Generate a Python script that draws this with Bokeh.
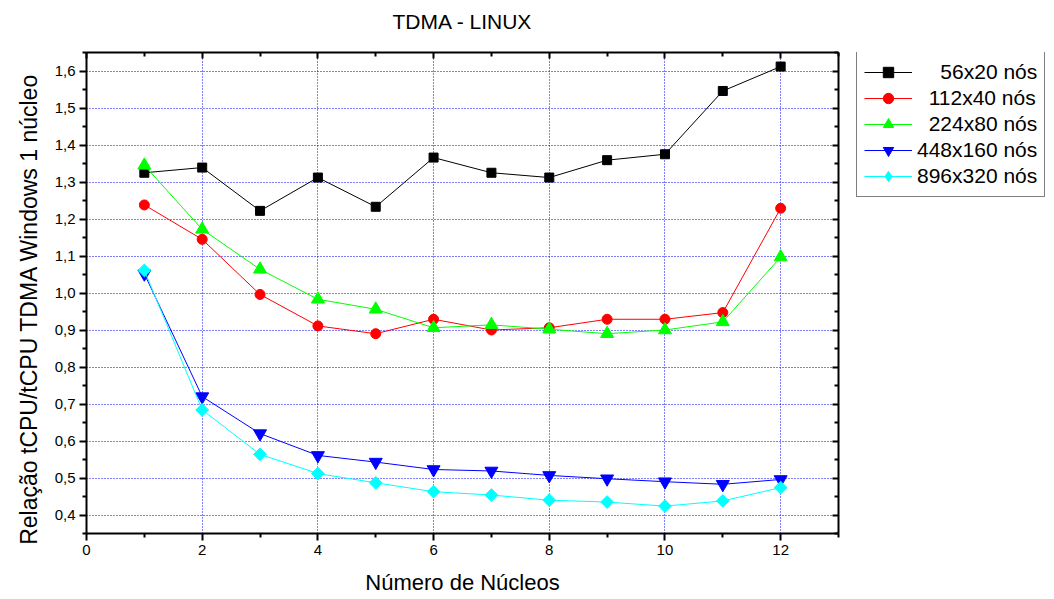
import math
from bokeh.plotting import figure
from bokeh.layouts import row
from bokeh.models import (FixedTicker, LinearAxis, Range1d, Legend, LegendItem,
                          CustomJSTickFormatter)
from bokeh.embed import file_html
from bokeh.resources import INLINE

# ---- data ----
nucleos = [1, 2, 3, 4, 5, 6, 7, 8, 9, 10, 11, 12]
s56x20 = [1.325, 1.339, 1.222, 1.312, 1.233, 1.366, 1.325, 1.312, 1.359, 1.375, 1.546, 1.612]
s112x40 = [1.238, 1.145, 0.996, 0.911, 0.890, 0.929, 0.900, 0.906, 0.929, 0.929, 0.947, 1.229]
s224x80 = [1.345, 1.172, 1.064, 0.983, 0.956, 0.906, 0.914, 0.902, 0.890, 0.900, 0.922, 1.097]
s448x160 = [1.052, 0.720, 0.620, 0.561, 0.543, 0.523, 0.519, 0.507, 0.498, 0.490, 0.483, 0.496]
s896x320 = [1.061, 0.684, 0.564, 0.512, 0.487, 0.463, 0.454, 0.440, 0.435, 0.424, 0.438, 0.474]

labels = ["\u00a0\u00a0\u00a0\u00a056x20 nós", "\u00a0\u00a0112x40 nós", "\u00a0\u00a0224x80 nós",
          "448x160 nós", "896x320 nós"]
title_text = "TDMA - LINUX"
x_ticks = [0, 2, 4, 6, 8, 10, 12]
x_minor = [1, 3, 5, 7, 9, 11, 13]
y_ticks = [0.4, 0.5, 0.6, 0.7, 0.8, 0.9, 1.0, 1.1, 1.2, 1.3, 1.4, 1.5, 1.6]
y_minor = [0.35, 0.45, 0.55, 0.65, 0.75, 0.85, 0.95, 1.05, 1.15, 1.25, 1.35, 1.45, 1.55, 1.65]

FONT = "Liberation Sans"

p = figure(width=841, height=599, output_backend="svg", toolbar_location=None,
           x_range=Range1d(0, 13), y_range=Range1d(0.35, 1.65),
           min_border_left=86, min_border_right=3, min_border_top=52, min_border_bottom=66)
p.outline_line_color = None
p.background_fill_color = "white"
p.border_fill_color = "white"

xt = FixedTicker(ticks=x_ticks, minor_ticks=x_minor)
yt = FixedTicker(ticks=y_ticks, minor_ticks=y_minor)
yfmt = CustomJSTickFormatter(code="return tick.toFixed(1).replace('.', ',');")
blank = CustomJSTickFormatter(code="return '';")

for ax in p.xaxis:
    ax.ticker = xt
for ax in p.yaxis:
    ax.ticker = yt
    ax.formatter = yfmt

for ax in list(p.xaxis) + list(p.yaxis):
    ax.axis_line_width = 2
    ax.major_tick_line_width = 2
    ax.minor_tick_line_width = 2
    ax.major_tick_out = 7
    ax.major_tick_in = 0
    ax.minor_tick_out = 4
    ax.minor_tick_in = 0
    ax.major_label_text_font = FONT
    ax.major_label_text_font_size = "15px"
    ax.major_label_text_color = "black"
    ax.axis_label_text_font = FONT
    ax.axis_label_text_font_style = "normal"
    ax.axis_label_text_color = "black"
    ax.major_label_standoff = 4

p.xaxis.axis_label = "Número de Núcleos"
p.xaxis.axis_label_text_font_size = "22px"
p.xaxis.axis_label_standoff = 12
p.yaxis.axis_label = "Relação tCPU/tCPU TDMA Windows 1 núcleo" + "\u00a0" * 5
p.yaxis.axis_label_text_font_size = "23px"
p.yaxis.axis_label_standoff = 10

top = LinearAxis(ticker=xt, formatter=blank, major_label_text_font_size="0px", major_tick_in=6,
                 major_tick_out=0, minor_tick_in=4, minor_tick_out=0, axis_line_width=2,
                 major_tick_line_width=2, minor_tick_line_width=2, major_label_standoff=0,
                 axis_label=title_text, axis_label_text_font=FONT,
                 axis_label_text_font_size="21px", axis_label_text_font_style="normal",
                 axis_label_text_color="black", axis_label_standoff=20)
right = LinearAxis(ticker=yt, formatter=blank, major_label_text_font_size="0px", major_tick_in=6,
                   major_tick_out=0, minor_tick_in=4, minor_tick_out=0, axis_line_width=2,
                   major_tick_line_width=2, minor_tick_line_width=2, major_label_standoff=0)
p.add_layout(top, "above")
p.add_layout(right, "right")

p.xgrid.ticker = xt
p.ygrid.ticker = yt
for g in (p.xgrid, p.ygrid):
    g.grid_line_color = "#0000FF"
    g.grid_line_dash = "1 2"
    g.grid_line_width = 1
    g.minor_grid_line_color = None

series = [
    (s56x20, "black", "square", 9, 0, "square", 9),
    (s112x40, "#FF0000", "circle", 10, 0, "circle", 11),
    (s224x80, "#00FF00", "triangle", 13, 0, "triangle", 13),
    (s448x160, "#0000FF", "inverted_triangle", 13, 0, "inverted_triangle", 13),
    (s896x320, "#00FFFF", "square", 9, math.pi / 4, "diamond", 15),
]

# legend panel: a second figure whose view range lies away from the data,
# so only the legend (which needs real renderers) is visible there
lf = figure(width=213, height=599, output_backend="svg", toolbar_location=None,
            x_range=Range1d(100, 101), y_range=Range1d(100, 101),
            x_axis_type=None, y_axis_type=None, min_border=0)
lf.outline_line_color = None
lf.xgrid.visible = False
lf.ygrid.visible = False
lf.background_fill_color = "white"
lf.border_fill_color = "white"

items = []
for (ys, col, mk, sz, ang, lmk, lsz), lab in zip(series, labels):
    p.line(nucleos, ys, line_color=col, line_width=1)
    p.scatter(nucleos, ys, marker=mk, size=sz, angle=ang, fill_color=col, line_color=col)
    lr = lf.line(nucleos, ys, line_color=col, line_width=1)
    sr = lf.scatter(nucleos, ys, marker=lmk, size=lsz, fill_color=col, line_color=col)
    items.append(LegendItem(label=lab, renderers=[lr, sr]))

legend = Legend(items=items, location=(15, 336))
legend.border_line_color = "black"
legend.border_line_width = 1
legend.background_fill_color = "white"
legend.background_fill_alpha = 1
legend.label_text_font = FONT
legend.label_text_font_size = "21px"
legend.label_text_color = "black"
legend.glyph_width = 48
legend.glyph_height = 26
legend.label_standoff = 5
legend.label_height = 20
legend.padding = 7
legend.spacing = 0
legend.margin = 0
lf.add_layout(legend)

layout = row(p, lf, spacing=0)
open("out.html", "w").write(file_html(layout, INLINE))
